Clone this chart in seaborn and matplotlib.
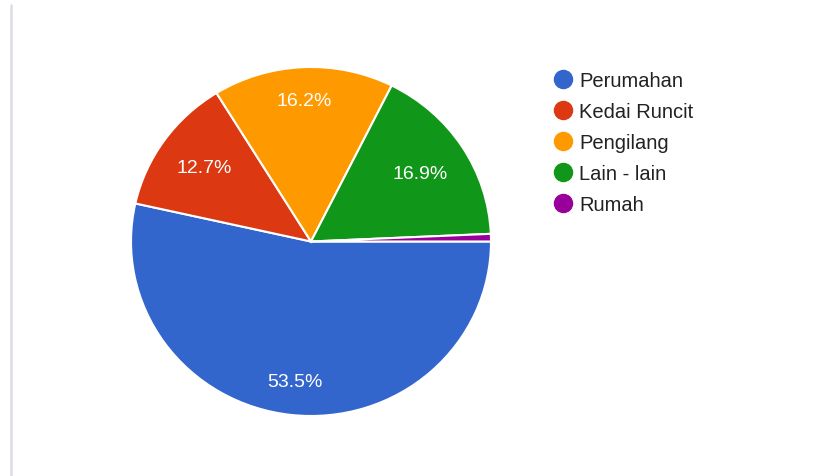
import matplotlib
matplotlib.use('Agg')
import matplotlib.pyplot as plt
from matplotlib.lines import Line2D
import seaborn as sns
import numpy as np

#%% data
categories = ['Perumahan', 'Kedai Runcit', 'Pengilang', 'Lain - lain', 'Rumah']
shares = [53.5, 12.7, 16.2, 16.9, 0.7]
colors = ['#3366cc', '#dc3912', '#ff9900', '#109618', '#990099']

#%% style
sns.set_theme(style='white')
plt.rcParams['font.family'] = ['Liberation Sans', 'DejaVu Sans']
label_r = [0.81, 0.73, 0.81, 0.72, 0.75]  # where each % label sits

fig = plt.figure(figsize=(8.3, 4.77), dpi=100)
ax = fig.add_axes([131 / 830, 60 / 477, 360 / 830, 349 / 477])

wedges, texts, autotexts = ax.pie(
    shares, colors=sns.color_palette(colors), startangle=0, counterclock=False,
    autopct=lambda p: '%.1f%%' % p if p >= 5 else '',
    pctdistance=0.77, radius=1.0,
    wedgeprops={'edgecolor': 'white', 'linewidth': 1.5},
    textprops={'color': 'white', 'fontsize': 14})

# push labels to their own radius
for w, t, r in zip(wedges, autotexts, label_r):
    ang = np.deg2rad((w.theta1 + w.theta2) / 2)
    t.set_position((r * np.cos(ang), r * np.sin(ang)))

ax.set_aspect('auto')
ax.set_xlim(-1, 1)
ax.set_ylim(-1, 1)
ax.axis('off')

# legend
handles = [Line2D([], [], marker='o', linestyle='none', markersize=13,
                  markerfacecolor=c, markeredgecolor=c) for c in colors]
fig.legend(handles, categories, loc='upper left', bbox_to_anchor=(543 / 830, 1 - 64 / 477),
           frameon=False, fontsize=14.5, labelcolor='#222222',
           handletextpad=0.2, labelspacing=0.6, borderaxespad=0, handlelength=1.2)

# thin grey border at the left edge
fig.add_artist(Line2D([10.5 / 830, 10.5 / 830], [1 / 477, 471 / 477],
                      transform=fig.transFigure, color='#dcdce4', linewidth=1.8))

plt.savefig('out.png', dpi=100)
